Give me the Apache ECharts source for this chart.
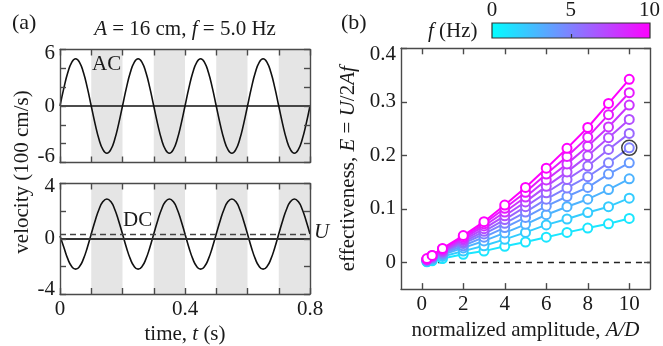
<!DOCTYPE html>
<html><head><meta charset="utf-8">
<script src="https://cdn.jsdelivr.net/npm/echarts@6/dist/echarts.min.js"></script>
<style>html,body{margin:0;padding:0;background:#fff}#c{width:663px;height:346px}</style>
</head><body><div id="c"></div>
<script>
// ---------- panel (a) data ----------
const timeS = [
 0,0.0125,0.025,0.0375,0.05,0.0625,0.075,0.0875,
 0.1,0.1125,0.125,0.1375,0.15,0.1625,0.175,0.1875,
 0.2,0.2125,0.225,0.2375,0.25,0.2625,0.275,0.2875,
 0.3,0.3125,0.325,0.3375,0.35,0.3625,0.375,0.3875,
 0.4,0.4125,0.425,0.4375,0.45,0.4625,0.475,0.4875,
 0.5,0.5125,0.525,0.5375,0.55,0.5625,0.575,0.5875,
 0.6,0.6125,0.625,0.6375,0.65,0.6625,0.675,0.6875,
 0.7,0.7125,0.725,0.7375,0.75,0.7625,0.775,0.7875,
 0.8];
const vAC = [
 0,1.92,3.55,4.64,5.02,4.64,3.55,1.92,
 0,-1.92,-3.55,-4.64,-5.02,-4.64,-3.55,-1.92,
 0,1.92,3.55,4.64,5.02,4.64,3.55,1.92,
 0,-1.92,-3.55,-4.64,-5.02,-4.64,-3.55,-1.92,
 0,1.92,3.55,4.64,5.02,4.64,3.55,1.92,
 0,-1.92,-3.55,-4.64,-5.02,-4.64,-3.55,-1.92,
 0,1.92,3.55,4.64,5.02,4.64,3.55,1.92,
 0,-1.92,-3.55,-4.64,-5.02,-4.64,-3.55,-1.92,
 0];
const vDC = [
 0.2,-0.63,-1.46,-2.01,-2.20,-2.01,-1.46,-0.63,
 0.34,1.31,2.14,2.69,2.88,2.69,2.14,1.31,
 0.34,-0.63,-1.46,-2.01,-2.20,-2.01,-1.46,-0.63,
 0.34,1.31,2.14,2.69,2.88,2.69,2.14,1.31,
 0.34,-0.63,-1.46,-2.01,-2.20,-2.01,-1.46,-0.63,
 0.34,1.31,2.14,2.69,2.88,2.69,2.14,1.31,
 0.34,-0.63,-1.46,-2.01,-2.20,-2.01,-1.46,-0.63,
 0.34,1.31,2.14,2.69,2.88,2.69,2.14,1.31,
 0.34];
const uMean = 0.35;
const bands = [[0.1,0.2],[0.3,0.4],[0.5,0.6],[0.7,0.8]];
const timeTicks = [0,0.1,0.2,0.3,0.4,0.5,0.6,0.7,0.8];
const timeLabels = [0,0.4,0.8];
const acLabels = [-6,0,6];
const dcLabels = [-4,0,4];

// ---------- panel (b) data ----------
const ampRatio = [0.25,0.5,1,2,3,4,5,6,7,8,9,10];
const freqHz = [1,2,3,4,5,6,7,8,9,10];
const E_f1  = [0.001,0.003,0.007,0.015,0.021,0.030,0.038,0.047,0.056,0.064,0.072,0.082];
const E_f2  = [0.002,0.005,0.011,0.021,0.031,0.043,0.056,0.070,0.081,0.093,0.104,0.120];
const E_f3  = [0.003,0.007,0.014,0.027,0.040,0.055,0.071,0.089,0.104,0.118,0.136,0.156];
const E_f4  = [0.004,0.008,0.016,0.031,0.047,0.065,0.084,0.105,0.123,0.140,0.165,0.186];
const E_f5  = [0.004,0.009,0.018,0.035,0.053,0.073,0.094,0.118,0.139,0.160,0.186,0.214];
const E_f6  = [0.005,0.010,0.020,0.038,0.058,0.080,0.104,0.130,0.155,0.180,0.211,0.241];
const E_f7  = [0.005,0.011,0.021,0.041,0.063,0.087,0.113,0.142,0.169,0.199,0.233,0.267];
const E_f8  = [0.006,0.012,0.023,0.044,0.068,0.094,0.122,0.154,0.184,0.217,0.253,0.294];
const E_f9  = [0.006,0.013,0.025,0.047,0.072,0.101,0.131,0.165,0.198,0.234,0.276,0.317];
const E_f10 = [0.007,0.013,0.026,0.050,0.076,0.107,0.140,0.176,0.213,0.252,0.297,0.342];
const effSeries = [E_f1,E_f2,E_f3,E_f4,E_f5,E_f6,E_f7,E_f8,E_f9,E_f10];
const highlight = [10, 0.214];   // circled point: f = 5 Hz, A/D = 10
const adTicks = [0,2,4,6,8,10];
const eTicks = [0,0.1,0.2,0.3,0.4];
const cbTicks = [0,5,10];

// ---------- styling ----------
const FONT = 'Liberation Serif';
const TXT = '#1a1a1a';
const AXC = '#4a4a4a';
const FS = 21;
const rich = {i:{fontStyle:'italic', fontFamily:FONT, fontSize:FS, color:TXT}};
function cool(f){ const r=Math.round(25.5*f), g=Math.round(255-25.5*f); return `rgb(${r},${g},255)`; }

// edge tick labels sit slightly inside the frame, as in the reference
function edgeLabels(lo, hi, padTop, padBottom){
  return {
    formatter: v => v===hi ? `{hi|${v}}` : (v===lo ? `{lo|${v}}` : `${v}`),
    rich:{
      hi:{fontFamily:FONT, fontSize:FS, color:TXT, padding:[padTop,0,0,0]},
      lo:{fontFamily:FONT, fontSize:FS, color:TXT, padding:[0,0,padBottom,0]}
    }
  };
}

function axis(gridIndex, position, min, max, o){
  const base = {
    type:'value', gridIndex, position, min, max, z:5,
    splitLine:{show:false},
    axisLine:{show:true, onZero:false, lineStyle:{color:AXC, width:1.4}},
    axisTick:{show:true, inside:true, length:6, lineStyle:{color:AXC, width:1.4}},
    axisLabel:{show:false, fontFamily:FONT, fontSize:FS, color:TXT, margin:6},
    nameTextStyle:{fontFamily:FONT, fontSize:FS, color:TXT, rich}
  };
  o = o||{};
  for (const k in o){
    if (typeof o[k]==='object' && !Array.isArray(o[k]) && base[k]) base[k] = Object.assign({}, base[k], o[k]);
    else base[k] = o[k];
  }
  return base;
}

const xAxes = [
  axis(0,'bottom',0,0.8,{axisTick:{customValues:timeTicks}}),
  axis(0,'top',0,0.8,{axisTick:{customValues:timeTicks}}),
  axis(1,'bottom',0,0.8,{axisTick:{customValues:timeTicks}, axisLabel:{show:true, customValues:timeLabels, margin:5},
     name:'time, {i|t} (s)', nameLocation:'middle', nameGap:30}),
  axis(1,'top',0,0.8,{axisTick:{customValues:timeTicks}}),
  axis(2,'bottom',-1,11,{axisTick:{customValues:adTicks}, axisLabel:{show:true, customValues:adTicks, margin:5},
     name:'normalized amplitude, {i|A/D}', nameLocation:'middle', nameGap:30}),
  axis(2,'top',-1,11,{axisTick:{customValues:adTicks}}),
  axis(3,'top',0,10,{axisLine:{show:false}, axisTick:{show:false}, axisLabel:{show:true, customValues:cbTicks, margin:3}}),
  axis(3,'bottom',0,10,{axisLine:{show:false}, axisTick:{customValues:[5], length:4, lineStyle:{color:'#333',width:1.2}}, z:6})
];
const yAxes = [
  axis(0,'left',-6,6,{interval:2, axisLabel:Object.assign({show:true, customValues:acLabels, margin:5}, edgeLabels(-6,6,8,12))}),
  axis(0,'right',-6,6,{interval:2}),
  axis(1,'left',-4,4,{interval:2, axisLabel:Object.assign({show:true, customValues:dcLabels, margin:5}, edgeLabels(-4,4,6,10))}),
  axis(1,'right',-4,4,{interval:2}),
  axis(2,'left',-0.05,0.4,{axisTick:{customValues:eTicks}, axisLabel:Object.assign({show:true, customValues:eTicks, margin:5}, edgeLabels(-99,0.4,13,0)),
     name:'effectiveness, {i|E} = {i|U}/2{i|Af}', nameLocation:'middle', nameGap:42}),
  axis(2,'right',-0.05,0.4,{axisTick:{customValues:eTicks}}),
  axis(3,'left',0,1,{show:false})
];

const bandArea = {silent:true, itemStyle:{color:'#e5e5e5'},
  data: bands.map(b=>[{xAxis:b[0]},{xAxis:b[1]}])};

const series = [
  {type:'line', xAxisIndex:0, yAxisIndex:0, data:timeS.map((t,i)=>[t,vAC[i]]), smooth:0.5,
   showSymbol:false, lineStyle:{color:'#111', width:1.6}, z:3, markArea:bandArea,
   markLine:{silent:true, symbol:'none', label:{show:false}, lineStyle:{color:'#111', width:1.6, type:'solid'}, data:[{yAxis:0}]}},
  {type:'line', xAxisIndex:2, yAxisIndex:2, data:timeS.map((t,i)=>[t,vDC[i]]), smooth:0.5,
   showSymbol:false, lineStyle:{color:'#111', width:1.6}, z:3, markArea:bandArea,
   markLine:{silent:true, symbol:'none', label:{show:false}, data:[
     {yAxis:0, lineStyle:{color:'#333', width:2, type:'solid'}},
     {yAxis:uMean, lineStyle:{color:'#444', width:1.4, type:[6,4]}}]}}
];
effSeries.forEach((arr, k)=>{
  const c = cool(freqHz[k]);
  const s = {type:'line', xAxisIndex:4, yAxisIndex:4, data:ampRatio.map((a,i)=>[a,arr[i]]),
    symbol:'emptyCircle', symbolSize:9, lineStyle:{color:c, width:2}, itemStyle:{color:c, borderWidth:2}, z:3+k*0.01};
  if (k===0) s.markLine = {silent:true, symbol:'none', label:{show:false}, z:1,
     lineStyle:{color:'#222', width:1.4, type:[6,5]}, data:[[{coord:[0.25,0]},{coord:[11,0]}]]};
  series.push(s);
});
series.push({type:'scatter', xAxisIndex:4, yAxisIndex:4, data:[highlight], symbol:'circle', symbolSize:15,
  itemStyle:{color:'rgba(0,0,0,0)', borderColor:'#111', borderWidth:1.5}, z:10});

const chart = echarts.init(document.getElementById('c'), null, {renderer:'canvas'});
chart.setOption({
  animation:false, backgroundColor:'#fff',
  textStyle:{fontFamily:FONT, fontSize:FS, color:TXT},
  grid:[
    {left:60, top:49.5, width:250, height:113},
    {left:60, top:183.5, width:250, height:113},
    {left:401, top:48.3, width:249, height:248.5},
    {left:492, top:23, width:158, height:15}
  ],
  xAxis:xAxes, yAxis:yAxes, series,
  graphic:[
    {type:'rect', shape:{x:492, y:23, width:158, height:15}, z:4,
     style:{fill:new echarts.graphic.LinearGradient(0,0,1,0,[{offset:0,color:'#00ffff'},{offset:0.5,color:'#8080ff'},{offset:1,color:'#ff00ff'}]), stroke:'#333', lineWidth:1.2}},
    {type:'text', x:12, y:23, style:{text:'(a)', font:`22px "${FONT}"`, fill:TXT, textVerticalAlign:'middle'}},
    {type:'text', x:341, y:23, style:{text:'(b)', font:`22px "${FONT}"`, fill:TXT, textVerticalAlign:'middle'}},
    {type:'text', x:185, y:29, style:{text:'{i|A} = 16 cm, {i|f} = 5.0 Hz', font:`${FS}px "${FONT}"`, fill:TXT, rich, textAlign:'center', textVerticalAlign:'middle'}},
    {type:'text', x:428, y:31, style:{text:'{i|f} (Hz)', font:`${FS}px "${FONT}"`, fill:TXT, rich, textVerticalAlign:'middle'}},
    {type:'text', x:92, y:64, z:20, style:{text:'AC', font:`${FS}px "${FONT}"`, fill:TXT, textVerticalAlign:'middle'}},
    {type:'text', x:123, y:220, z:20, style:{text:'DC', font:`${FS}px "${FONT}"`, fill:TXT, textVerticalAlign:'middle'}},
    {type:'text', x:314, y:232, style:{text:'U', font:`italic ${FS}px "${FONT}"`, fill:TXT, textVerticalAlign:'middle'}},
    {type:'text', x:22, y:172, rotation:Math.PI/2, style:{text:'velocity (100 cm/s)', font:`${FS}px "${FONT}"`, fill:TXT, textAlign:'center', textVerticalAlign:'middle'}}
  ]
});
</script></body></html>
